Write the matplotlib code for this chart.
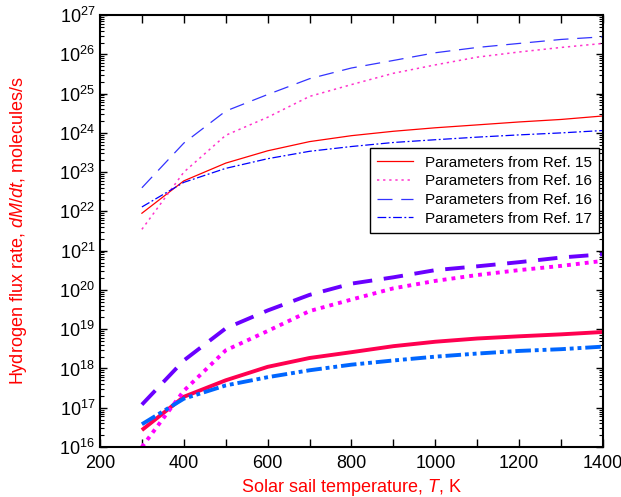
import numpy as np
import matplotlib
matplotlib.use('Agg')
import matplotlib.pyplot as plt
from matplotlib.ticker import MultipleLocator, LogLocator, NullFormatter

plt.rcParams['font.family'] = ['Liberation Sans', 'DejaVu Sans']
plt.rcParams['mathtext.fontset'] = 'custom'
plt.rcParams['mathtext.rm'] = 'Liberation Sans'
plt.rcParams['mathtext.it'] = 'Liberation Sans:italic'

# sail temperature, K
T = [300, 400, 500, 600, 700, 800, 900, 1000, 1100, 1200, 1300, 1400]

# upper group (thin lines)
ref15_a = [9e21, 6e22, 1.7e23, 3.5e23, 6e23, 8.5e23, 1.1e24, 1.35e24, 1.6e24, 1.9e24, 2.2e24, 2.7e24]
ref16_a = [3.5e21, 1e23, 8.7e23, 2.5e24, 8.5e24, 1.7e25, 3.3e25, 5.4e25, 8.5e25, 1.15e26, 1.5e26, 1.9e26]
ref16b_a = [4e22, 5.5e23, 3.6e24, 9.5e24, 2.4e25, 4.5e25, 7e25, 1.1e26, 1.5e26, 1.9e26, 2.4e26, 2.8e26]
ref17_a = [1.3e22, 5.5e22, 1.25e23, 2.2e23, 3.4e23, 4.5e23, 5.7e23, 6.7e23, 7.8e23, 8.9e23, 1.0e24, 1.15e24]

# lower group (thick lines)
ref15_b = [2.7e16, 1.9e17, 5e17, 1.1e18, 1.85e18, 2.6e18, 3.7e18, 4.8e18, 5.8e18, 6.6e18, 7.4e18, 8.5e18]
ref16_b = [1e16, 2.7e17, 2.9e18, 9e18, 2.9e19, 5.7e19, 1.1e20, 1.7e20, 2.4e20, 3.2e20, 4.1e20, 5.5e20]
ref16b_b = [1.2e17, 1.6e18, 1.05e19, 3e19, 7.5e19, 1.45e20, 2.1e20, 3.2e20, 4e20, 5.1e20, 6.7e20, 8.1e20]
ref17_b = [3.8e16, 1.7e17, 3.7e17, 6e17, 9e17, 1.25e18, 1.6e18, 2.0e18, 2.4e18, 2.8e18, 3.1e18, 3.6e18]

labels = ['Parameters from Ref. 15', 'Parameters from Ref. 16',
          'Parameters from Ref. 16', 'Parameters from Ref. 17']

fig = plt.figure(figsize=(6.21, 4.97), dpi=100)
ax = fig.add_axes([0.161, 0.1006, 0.810, 0.869])

ax.plot(T, ref15_a, color='#ff0000', lw=0.9, label=labels[0])
ax.plot(T, ref16_a, color='#ff33cc', lw=1.1, ls=(0, (1.5, 2.5)), label=labels[1])
ax.plot(T, ref16b_a, color='#3333ff', lw=0.9, ls=(0, (12, 7)), label=labels[2])
ax.plot(T, ref17_a, color='#0000ff', lw=0.9, ls=(0, (7, 2, 1.5, 2)), label=labels[3])

ax.plot(T, ref15_b, color='#ff0050', lw=2.8, solid_capstyle='butt')
ax.plot(T, ref16_b, color='#ff00ff', lw=2.8, ls=(0, (1, 1.3)))
ax.plot(T, ref16b_b, color='#6a00ff', lw=2.8, ls=(0, (5, 3)))
ax.plot(T, ref17_b, color='#0066ff', lw=2.8, ls=(0, (4, 1, 1, 1, 1, 1)))

ax.set_yscale('log')
ax.set_xlim(200, 1400)
ax.set_ylim(1e16, 1e27)

ax.xaxis.set_major_locator(MultipleLocator(200))
ax.xaxis.set_minor_locator(MultipleLocator(100))
ax.yaxis.set_major_locator(LogLocator(base=10, numticks=20))
ax.yaxis.set_minor_locator(LogLocator(base=10, subs=np.arange(2, 10), numticks=20))
ax.yaxis.set_minor_formatter(NullFormatter())

ax.tick_params(which='both', direction='in', top=True, right=True, labelsize=13, colors='black')
ax.tick_params(axis='x', which='both', length=6, width=1)
ax.tick_params(axis='y', which='major', length=5, width=1)
ax.tick_params(axis='y', which='minor', length=3, width=0.8)
ax.tick_params(axis='x', pad=6)

for s in ax.spines.values():
    s.set_linewidth(1.5)

ax.set_xlabel('Solar sail temperature, $T$, K', color='#ff0000', fontsize=13, labelpad=3)
ax.set_ylabel('Hydrogen flux rate, $dM/dt$, molecules/s', color='#ff0000', fontsize=13, labelpad=22)

leg = ax.legend(loc='upper right', bbox_to_anchor=(0.993, 0.692),
                fontsize=11, fancybox=False, edgecolor='black', framealpha=1,
                handlelength=2.3, labelspacing=0.3, borderpad=0.5, handletextpad=0.8,
                borderaxespad=0)
leg.get_frame().set_linewidth(1.0)

fig.savefig('out.png', dpi=100)
